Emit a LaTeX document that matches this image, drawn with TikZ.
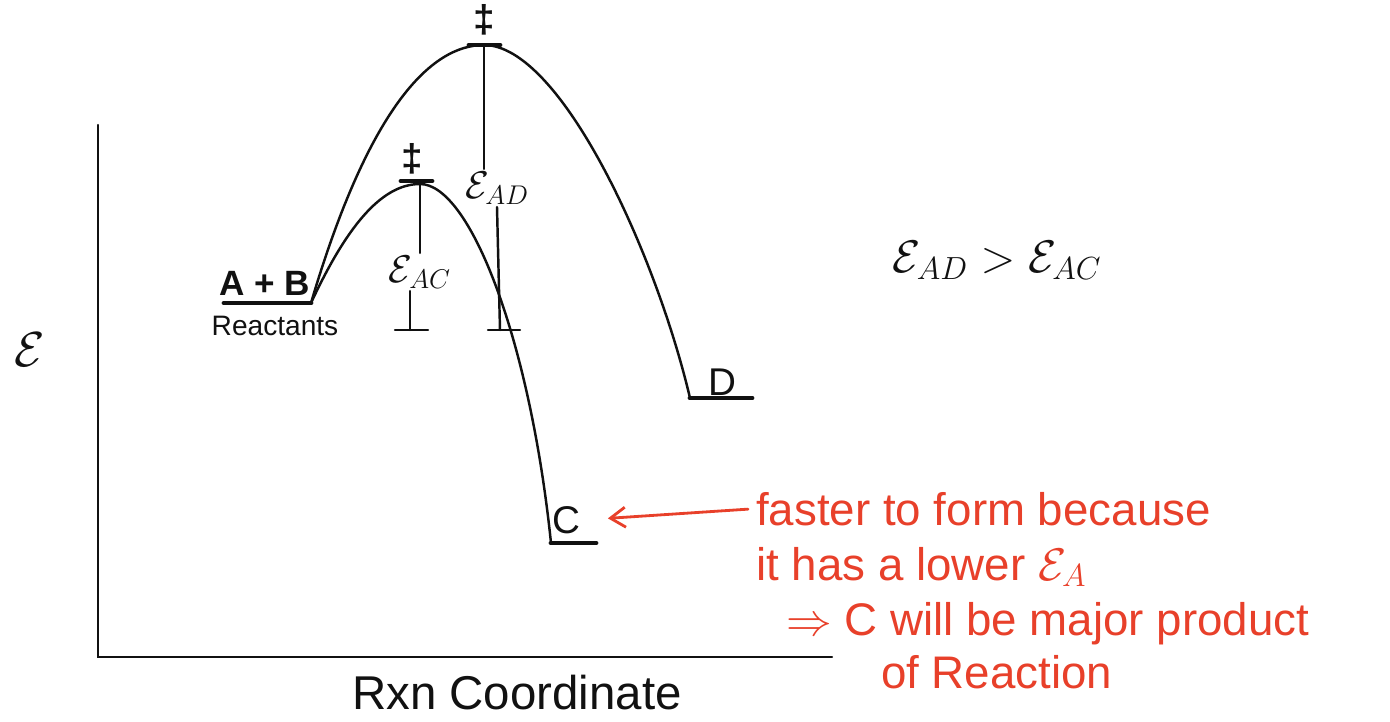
\RequirePackage{fix-cm}
\documentclass[tikz,border=0pt]{standalone}
\usepackage{fontspec}
\setmainfont{Liberation Sans}
\usetikzlibrary{arrows.meta, positioning, calc}
\definecolor{cink}{HTML}{111111}
\definecolor{cred}{HTML}{E8402A}
\tikzset{
  every picture/.style={line width=1.4pt, line cap=round, draw=cink},
  level/.style={line width=2.8pt},
  lbl/.style={font=\fontsize{22}{26}\selectfont, inner sep=1pt, text=cink},
  small/.style={font=\fontsize{16}{19}\selectfont, inner sep=1pt, text=cink},
  big/.style={font=\fontsize{28}{32}\selectfont, inner sep=1pt, text=cink},
  ts/.style={font=\fontsize{22}{24}\selectfont\bfseries, inner sep=0pt, text=cink},
  note/.style={font=\fontsize{26}{30}\selectfont, text=cred, anchor=base west, inner sep=0pt},
  arrow/.style={-{Straight Barb[length=3mm, width=4mm]}, draw=cred, line width=1.6pt},
}

\begin{document}
\begin{tikzpicture}[x=0.02cm, y=-0.02cm]
  \useasboundingbox (0,0) rectangle (1390,721);
  % axes
  \coordinate (ytop) at (98,125);
  \coordinate (origin) at (98,657);
  \coordinate (xend) at (832,657);
  \draw (ytop) -- (origin) -- (xend);
  \node[big] (elabel) at (30,350) {$\mathcal{E}$};
  \node[big, font=\fontsize{27}{30}\selectfont] (xlabel) at (517,693) {Rxn Coordinate};
  % energy levels
  \coordinate (r0) at (224,303);
  \coordinate (r1) at (311,303);
  \coordinate (d0) at (690,398);
  \coordinate (d1) at (752,398);
  \coordinate (c0) at (551,543);
  \coordinate (c1) at (596,543);
  \coordinate (tsD) at (484,45);
  \coordinate (tsC) at (420,184);
  \draw[level] (r0) -- (r1);
  \draw[level] (d0) -- (d1);
  \draw[level] (c0) -- (c1);
  \node[lbl, font=\fontsize{20}{24}\selectfont\bfseries] (ab) at (265,283) {A + B};
  \node[small] (react) at (275,326) {Reactants};
  \node[lbl] (dlab) at (722,382) {D};
  \node[lbl] (clab) at (566,520) {C};
  % the two paths
  \draw (r1) .. controls (368,110) and (430,45) .. (tsD) .. controls (560,45) and (655,250) .. (d0);
  \draw (r1) .. controls (345,230) and (380,184) .. (tsC) .. controls (470,184) and (530,340) .. (c0);
  % transition states
  \draw[level] ($(tsD)+(-15,0)$) -- ($(tsD)+(16,0)$);
  \draw[level] ($(tsC)+(-19,-3)$) -- ($(tsC)+(12,-3)$);
  \node[ts] (ddD) at (484,20) {‡};
  \node[ts] (ddC) at (412,159) {‡};
  % activation energies
  \node[lbl] (eac) at (420,272) {$\mathcal{E}_{AC}$};
  \node[lbl] (ead) at (497,188) {$\mathcal{E}_{AD}$};
  \coordinate (acbot) at (410,330);
  \coordinate (adbot) at (500,330);
  \draw (tsC) -- (tsC |- eac.north);
  \draw (eac.south -| acbot) -- (acbot);
  \draw ($(acbot)+(-15,0)$) -- ($(acbot)+(18,0)$);
  \draw (tsD) -- (tsD |- ead.north);
  \draw (ead.south) -- (adbot);
  \draw ($(adbot)+(-12,0)$) -- ($(adbot)+(20,0)$);
  \node[big, font=\fontsize{26}{30}\selectfont] (rel) at (997,260) {$\mathcal{E}_{AD} > \mathcal{E}_{AC}$};
  % note in red
  \node[note] (n1) at (755,525) {faster to form because};
  \node[note] (n2) at (755,580) {it has a lower $\mathcal{E}_A$};
  \node[note] (n3) at (785,635) {$\Rightarrow$ C will be major product};
  \node[note] (n4) at (880,688) {of Reaction};
  \draw[arrow, shorten <=4pt, shorten >=0.5cm] (n1.west) -- (clab.east);
\end{tikzpicture}
\end{document}
